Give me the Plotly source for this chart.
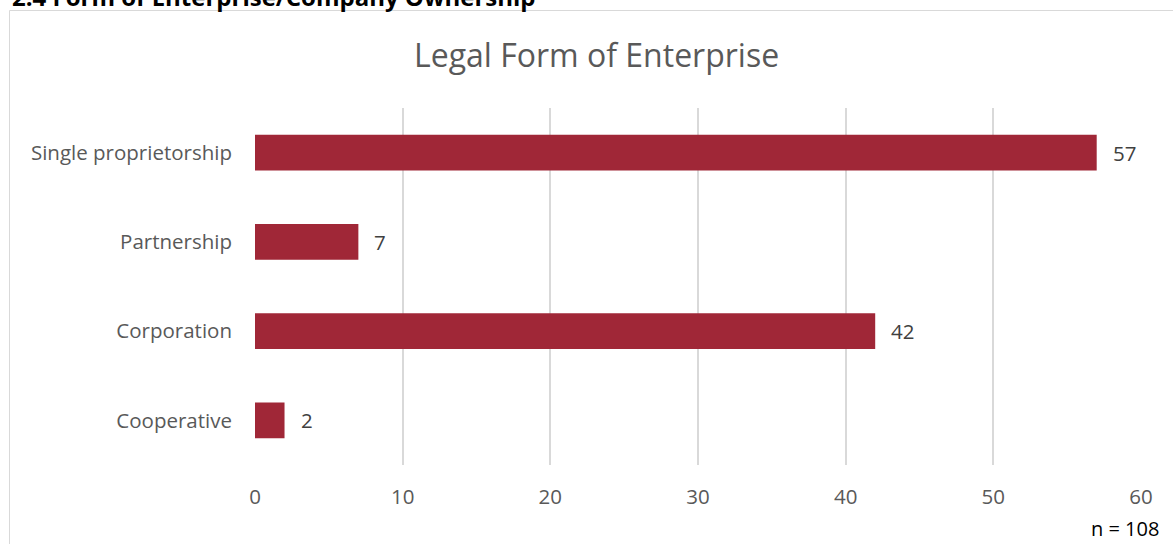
import plotly.graph_objects as go

categories = ["Single proprietorship", "Partnership", "Corporation", "Cooperative"]
counts = [57, 7, 42, 2]
x_ticks = [0, 10, 20, 30, 40, 50, 60]

W, H = 1173, 544
L, R, T, B = 255, 32, 108, 79
pw, ph = W - L - R, H - T - B


def px(x):
    return (x - L) / pw


def py(y):
    return 1 - (y - T) / ph


font = "'Open Sans', sans-serif"
fs = 20.5

fig = go.Figure(
    go.Bar(
        x=counts,
        y=categories,
        orientation="h",
        width=0.4,
        marker=dict(color="#A02737", line=dict(width=0)),
        hoverinfo="x+y",
    )
)

# value labels sit a little to the right of each bar end
for cat, v in zip(categories, counts):
    fig.add_annotation(
        x=v, y=cat, xref="x", yref="y", text=str(v),
        xanchor="left", yanchor="middle", xshift=14, showarrow=False,
        font=dict(size=fs, color="#404040", family=font),
    )

fig.update_layout(
    width=W,
    height=H,
    margin=dict(l=L, r=R, t=T, b=B),
    paper_bgcolor="white",
    plot_bgcolor="white",
    showlegend=False,
    font=dict(family=font, color="#595959", size=fs),
    xaxis=dict(
        range=[0, 60],
        tickvals=x_ticks,
        showgrid=True,
        gridcolor="#D9D9D9",
        gridwidth=2,
        zeroline=False,
        showline=False,
        ticks="",
        ticklabelstandoff=17,
        tickfont=dict(size=fs, color="#595959"),
        fixedrange=True,
    ),
    yaxis=dict(
        categoryorder="array",
        categoryarray=categories[::-1],
        showgrid=False,
        zeroline=False,
        showline=False,
        ticks="",
        ticklabelstandoff=22,
        tickfont=dict(size=fs, color="#595959"),
    ),
    shapes=[
        dict(
            type="rect", xref="paper", yref="paper",
            x0=px(9.5), x1=px(1180), y0=py(10.5), y1=py(560),
            line=dict(color="#D9D9D9", width=1), layer="below",
        )
    ],
    annotations=list(fig.layout.annotations) + [
        dict(
            text="Legal Form of Enterprise", xref="paper", yref="paper",
            x=px(596), y=py(54), xanchor="center", yanchor="middle",
            showarrow=False, font=dict(size=32, color="#595959", family=font),
        ),
        dict(
            text="<b>2.4 Form of Enterprise/Company Ownership</b>", xref="paper", yref="paper",
            x=px(10), y=py(-4), xanchor="left", yanchor="middle",
            showarrow=False, font=dict(size=24, color="#000000", family=font),
        ),
        dict(
            text="n = 108", xref="paper", yref="paper",
            x=px(1161), y=py(528), xanchor="right", yanchor="middle",
            showarrow=False, font=dict(size=20, color="#000000", family=font),
        ),
    ],
)

fig.write_html("out.html")
